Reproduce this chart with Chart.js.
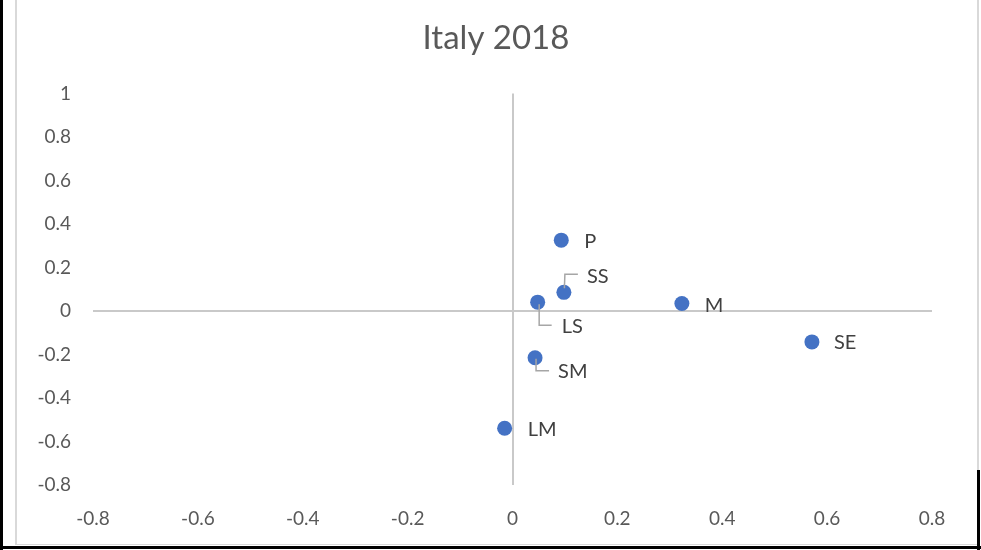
<!DOCTYPE html>
<html>
<head>
<meta charset="utf-8">
<script src="https://cdn.jsdelivr.net/npm/chart.js@4.4.1/dist/chart.umd.min.js"></script>
<style>
  html, body { margin: 0; padding: 0; background: #fff; }
  #wrap { position: relative; width: 981px; height: 550px; overflow: hidden; }
  #c { position: absolute; left: 0; top: 0; }
  .frame { position: absolute; pointer-events: none; }
</style>
</head>
<body>
<div id="wrap">
  <canvas id="c" width="981" height="550"></canvas>
  <div class="frame" style="left:15px;top:-2px;width:960px;height:546px;border-left:2px solid #d9d9d9;border-right:2px solid #d9d9d9;border-bottom:1px solid #d9d9d9;"></div>
  <div class="frame" style="left:0;top:0;width:3px;height:550px;background:#000;"></div>
  <div class="frame" style="left:0;top:546px;width:981px;height:3px;background:#000;"></div>
  <div class="frame" style="left:977px;top:470px;width:3px;height:80px;background:#000;"></div>
</div>
<script>
// Sector labels and their coordinates
const labels = ['P', 'SS', 'LS', 'M', 'SE', 'SM', 'LM'];
const xValues = [0.093, 0.098, 0.048, 0.323, 0.571, 0.043, -0.015];
const yValues = [0.326, 0.086, 0.041, 0.035, -0.142, -0.215, -0.539];

// Axis ticks
const xTicks = [-0.8, -0.6, -0.4, -0.2, 0, 0.2, 0.4, 0.6, 0.8];
const yTicks = [-0.8, -0.6, -0.4, -0.2, 0, 0.2, 0.4, 0.6, 0.8, 1];

// Label placement: text offset from the point, optional elbow leader line
const labelPlacement = {
  P:  { dx: 23, dy: 1 },
  SS: { dx: 23, dy: -16, leader: [[0.5, -4], [1, -18], [14, -18]] },
  LS: { dx: 24, dy: 24, leader: [[1.5, 2], [1.5, 23], [14, 23]] },
  M:  { dx: 23, dy: 2 },
  SE: { dx: 22, dy: 1 },
  SM: { dx: 23, dy: 14, leader: [[1, 1], [1, 13], [14, 13]] },
  LM: { dx: 23, dy: 1 }
};

const points = labels.map((l, i) => ({ x: xValues[i], y: yValues[i] }));

const FONT = 'Lato, "Open Sans", sans-serif';

const pointLabels = {
  id: 'pointLabels',
  afterDatasetsDraw(chart) {
    const ctx = chart.ctx;
    const meta = chart.getDatasetMeta(0);
    ctx.save();
    meta.data.forEach((el, i) => {
      const name = labels[i];
      const p = labelPlacement[name] || { dx: 20, dy: 0 };
      if (p.leader) {
        ctx.beginPath();
        ctx.strokeStyle = '#a6a6a6';
        ctx.lineWidth = 1.5;
        p.leader.forEach((pt, k) => {
          const px = el.x + pt[0], py = el.y + pt[1];
          if (k === 0) ctx.moveTo(px, py); else ctx.lineTo(px, py);
        });
        ctx.stroke();
      }
      ctx.fillStyle = '#404040';
      ctx.font = '20px ' + FONT;
      ctx.textAlign = 'left';
      ctx.textBaseline = 'middle';
      ctx.fillText(name, el.x + p.dx, el.y + p.dy);
    });
    ctx.restore();
  }
};

const zeroLine = (ctx) => (ctx.tick && ctx.tick.value === 0) ? '#c9c9c9' : 'rgba(0,0,0,0)';

new Chart(document.getElementById('c'), {
  type: 'scatter',
  data: {
    datasets: [{
      data: points,
      backgroundColor: '#4472C4',
      borderColor: '#4472C4',
      pointRadius: 7.5,
      pointHoverRadius: 7.5,
      borderWidth: 0
    }]
  },
  options: {
    responsive: false,
    animation: false,
    events: [],
    layout: { padding: { left: 33, right: 22, top: 0, bottom: 15 } },
    plugins: {
      legend: { display: false },
      tooltip: { enabled: false },
      title: {
        display: true,
        text: 'Italy 2018',
        color: '#595959',
        font: { family: FONT, size: 33, weight: 'normal' },
        padding: { top: 19, bottom: 35 }
      }
    },
    scales: {
      x: {
        type: 'linear',
        min: xTicks[0],
        max: xTicks[xTicks.length - 1],
        afterBuildTicks: (s) => { s.ticks = xTicks.map(v => ({ value: v })); },
        afterFit: (s) => { s.height = 50; },
        grid: { color: zeroLine, lineWidth: 2, drawTicks: false },
        border: { display: false },
        ticks: {
          color: '#595959',
          padding: 22,
          maxRotation: 0,
          font: { family: FONT, size: 19 },
          callback: (v) => String(Math.round(v * 10) / 10)
        }
      },
      y: {
        type: 'linear',
        min: yTicks[0],
        max: yTicks[yTicks.length - 1],
        afterBuildTicks: (s) => { s.ticks = yTicks.map(v => ({ value: v })); },
        afterFit: (s) => { s.width = 60; },
        grid: { color: zeroLine, lineWidth: 2, drawTicks: false },
        border: { display: false },
        ticks: {
          color: '#595959',
          padding: 22,
          font: { family: FONT, size: 19 },
          callback: (v) => String(Math.round(v * 10) / 10)
        }
      },
      // empty right-hand margin axis
      yRight: {
        type: 'linear',
        position: 'right',
        display: true,
        min: yTicks[0],
        max: yTicks[yTicks.length - 1],
        afterFit: (s) => { s.width = 27; },
        grid: { display: false },
        border: { display: false },
        ticks: { display: false }
      }
    }
  },
  plugins: [pointLabels]
});
</script>
</body>
</html>
